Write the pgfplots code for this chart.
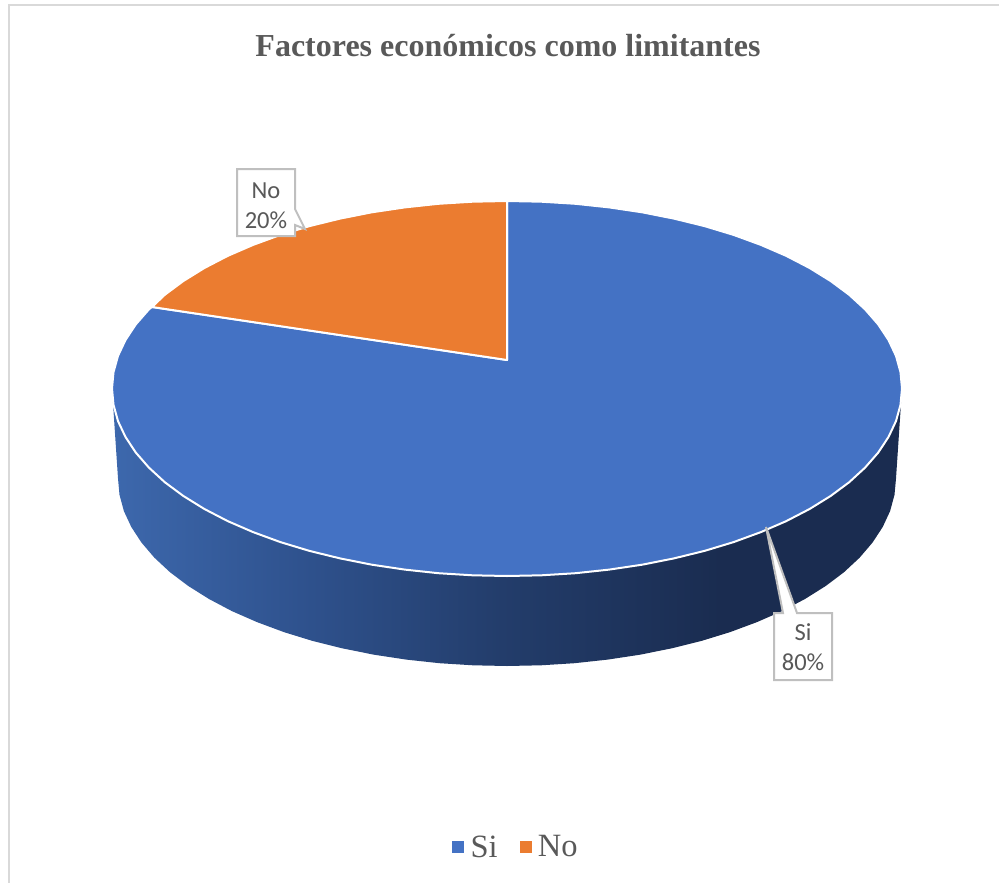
\documentclass[border=0pt]{standalone}
\usepackage{pgfplots}
\usepackage{fontspec}
\pgfplotsset{compat=1.18}
\setmainfont{Liberation Serif}
\newfontfamily\calibri{Carlito}
\definecolor{siblue}{HTML}{4472C4}
\definecolor{noorange}{HTML}{EB7C30}
\definecolor{txt}{HTML}{595959}
\definecolor{boxline}{HTML}{BFBFBF}
\definecolor{frameline}{HTML}{D9D9D9}
\pgfdeclarehorizontalshading{sidegrad}{100bp}{
  rgb(0bp)=(0.239,0.408,0.678);
  rgb(25bp)=(0.239,0.408,0.678);
  rgb(36.9bp)=(0.184,0.322,0.557);
  rgb(49.6bp)=(0.137,0.239,0.420);
  rgb(63.5bp)=(0.102,0.173,0.314);
  rgb(100bp)=(0.102,0.173,0.314)}
\begin{document}
\begin{tikzpicture}
\begin{axis}[
    scale only axis, width=999pt, height=883pt,
    xmin=0, xmax=999, ymin=0, ymax=883,
    y dir=reverse, hide axis, clip=false,
    title={Factores económicos como limitantes},
    title style={at={(axis cs:508,52)}, anchor=center, font=\fontsize{32}{38}\selectfont\bfseries, text=txt},
    legend columns=2,
    legend style={at={(axis cs:516,847)}, anchor=center, draw=none, fill=none,
        font=\fontsize{32.5}{38}\selectfont, text=txt,
        /tikz/every even column/.style={column sep=20pt}},
    legend image code/.code={\fill[#1] (0pt,-5.5pt) rectangle (11pt,5.5pt); \path[draw=none] (0pt,0pt) -- (16pt,0pt);},
]
% keeps the page the size of the whole chart
\path[use as bounding box] (axis cs:0,0) rectangle (axis cs:999,883);

% chart frame
\addplot[frameline, line width=2pt, mark=none, forget plot] coordinates {(8.5,883) (8.5,5) (999,5)};

% side of the disc
\addplot[shade, shading=sidegrad, draw=none, mark=none, forget plot] coordinates {
 (902,388.5) (896,478.5) (894.5,494.8) (890.1,511.1) (882.7,527) (872.5,542.6) (859.6,557.7)
 (843.9,572.3) (825.7,586) (805,599) (782.1,611.1) (757,622.1) (730.1,632.1) (701.5,640.9)
 (671.4,648.4) (640,654.7) (607.7,659.6) (574.5,663.2) (540.9,665.3) (507,666)
 (473.1,665.3) (439.5,663.2) (406.3,659.6) (374,654.7) (342.6,648.4) (312.5,640.9)
 (283.9,632.1) (257,622.1) (231.9,611.1) (209,599) (188.3,586) (170.1,572.3) (154.4,557.7)
 (141.5,542.6) (131.3,527) (123.9,511.1) (119.5,494.8) (118,478.5) (112,388.5)
} -- cycle;

% Si 80%
\addplot[fill=siblue, draw=white, line width=2pt, line join=round, mark=none, forget plot] coordinates {
 (507,360) (507,201) (541.4,201.7) (575.6,203.8) (609.2,207.4) (642.1,212.3) (673.9,218.6)
 (704.5,226.1) (733.6,234.9) (760.9,244.9) (786.3,255.9) (809.6,268) (830.6,281) (849.1,294.7)
 (865,309.3) (878.2,324.4) (888.5,340) (896,355.9) (900.5,372.2) (902,388.5)
 (900.5,404.8) (896,421.1) (888.5,437) (878.2,452.6) (865,467.7) (849.1,482.3) (830.6,496)
 (809.6,509) (786.3,521.1) (760.9,532.1) (733.6,542.1) (704.5,550.9) (673.9,558.4)
 (642.1,564.7) (609.2,569.6) (575.6,573.2) (541.4,575.3) (507,576)
 (472.6,575.3) (438.4,573.2) (404.8,569.6) (371.9,564.7) (340.1,558.4) (309.5,550.9)
 (280.4,542.1) (253.1,532.1) (227.7,521.1) (204.4,509) (183.4,496) (164.9,482.3) (149,467.7)
 (135.8,452.6) (125.5,437) (118,421.1) (113.5,404.8) (112,388.5)
 (113.5,372.2) (118,355.9) (125.5,340) (135.8,324.4) (149,309.3) (152,307)
} -- cycle;

% No 20%
\addplot[fill=noorange, draw=white, line width=2pt, line join=round, mark=none, forget plot] coordinates {
 (507,360) (152,307) (164.9,294.7) (183.4,281) (204.4,268) (227.7,255.9) (253.1,244.9)
 (280.4,234.9) (309.5,226.1) (340.1,218.6) (371.9,212.3) (404.8,207.4) (438.4,203.8)
 (472.6,201.7) (507,201)
} -- cycle;

% data callouts
\addplot[fill=white, draw=boxline, line width=2pt, line join=miter, mark=none, forget plot] coordinates {
 (237,169) (295,169) (295,209) (305,229) (295,225) (295,236) (237,236)
} -- cycle;
\addplot[fill=white, draw=boxline, line width=2pt, line join=miter, miter limit=3, mark=none, forget plot] coordinates {
 (774,613) (783,613) (766,527) (797,613) (832,613) (832,680) (774,680)
} -- cycle;
\node[align=center, text=txt, font=\calibri\fontsize{24.5}{30}\selectfont] at (axis cs:266,205.5) {No\\20\%};
\node[align=center, text=txt, font=\calibri\fontsize{24.5}{30}\selectfont] at (axis cs:803,647) {Si\\80\%};

% legend
\addlegendimage{siblue}
\addlegendentry{Si}
\addlegendimage{noorange}
\addlegendentry{No}
\end{axis}
\end{tikzpicture}
\end{document}
